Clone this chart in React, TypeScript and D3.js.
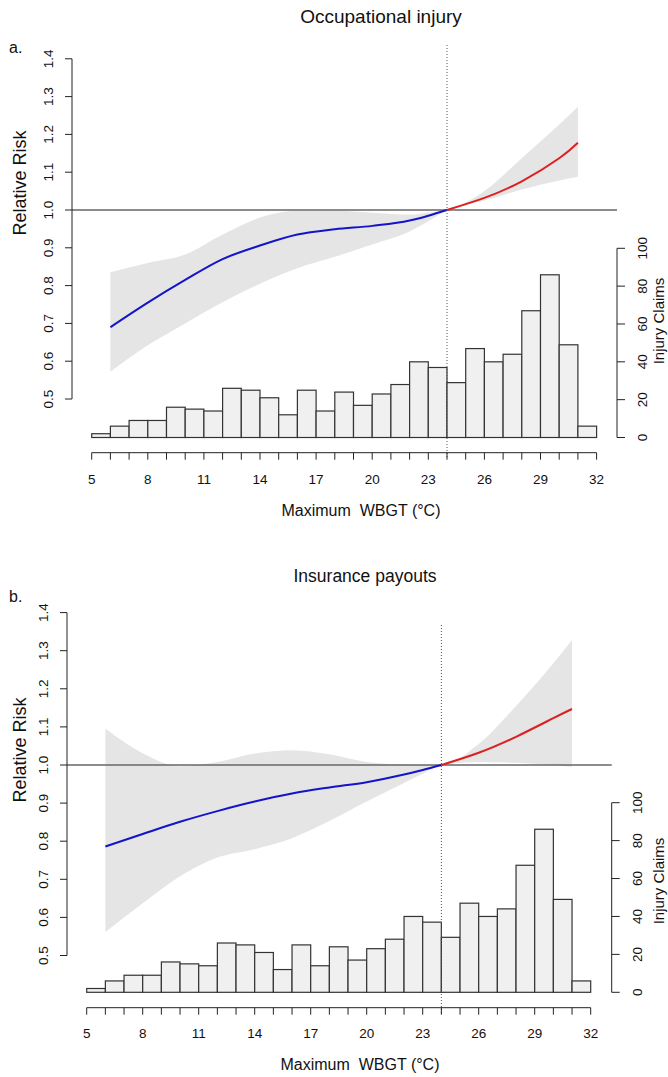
import React from 'react';
import * as d3 from 'd3';

// histogram: one bin per degree from 5 to 32
const binStarts = d3.range(5, 32);
const claimCounts = [2, 6, 9, 9, 16, 15, 14, 26, 25, 21, 12, 25, 14, 24, 17, 23, 28, 40, 37, 29, 47, 40, 44, 67, 86, 49, 6];

const xTicks = d3.range(5, 33);
const xLabels = [5, 8, 11, 14, 17, 20, 23, 26, 29, 32];
const rrTicks = [0.5, 0.6, 0.7, 0.8, 0.9, 1.0, 1.1, 1.2, 1.3, 1.4];
const claimTicks = [0, 20, 40, 60, 80, 100];

const refTemp = 24;
const coldWbgt = [6, 8, 10, 12, 14, 16, 18, 20, 22, 23, 24];
const heatWbgt = [24, 26, 28, 30, 31];

// a. Occupational injury
const injuryCold = [0.69, 0.755, 0.815, 0.87, 0.906, 0.935, 0.949, 0.958, 0.972, 0.985, 1.0];
const injuryColdLo = [0.572, 0.642, 0.7, 0.756, 0.805, 0.846, 0.876, 0.909, 0.943, 0.97, 1.0];
const injuryColdHi = [0.835, 0.86, 0.882, 0.935, 0.98, 0.998, 0.998, 0.993, 0.988, 0.993, 1.0];
const injuryHeat = [1.0, 1.032, 1.076, 1.137, 1.178];
const injuryHeatLo = [1.0, 1.025, 1.054, 1.078, 1.088];
const injuryHeatHi = [1.0, 1.05, 1.137, 1.226, 1.273];

// b. Insurance payouts
const payoutCold = [0.786, 0.819, 0.851, 0.879, 0.904, 0.925, 0.941, 0.955, 0.975, 0.987, 1.0];
const payoutColdLo = [0.562, 0.637, 0.708, 0.757, 0.779, 0.808, 0.853, 0.904, 0.953, 0.977, 1.0];
const payoutColdHi = [1.096, 1.031, 0.997, 1.008, 1.03, 1.039, 1.028, 1.008, 1.001, 1.0, 1.0];
const payoutHeat = [1.0, 1.032, 1.074, 1.123, 1.147];
const payoutHeatLo = [1.0, 1.008, 1.006, 1.0, 0.995];
const payoutHeatHi = [1.0, 1.055, 1.155, 1.267, 1.328];

const font = 'Liberation Sans, Arial, sans-serif';

type PanelProps = {
  letter: string;
  title: string;
  titleX: number;
  titleY: number;
  titleSize: number;
  letterY: number;
  xRange: [number, number];
  rrRange: [number, number];
  claimRange: [number, number];
  leftX: number;
  rightX: number;
  axisY: number;
  dotTop: number;
  labelY: number;
  xTitleX: number;
  xTitleY: number;
  rrTitleY: number;
  claimTitleY: number;
  cold: number[];
  coldLo: number[];
  coldHi: number[];
  heat: number[];
  heatLo: number[];
  heatHi: number[];
};

const Panel = (p: PanelProps) => {
  const x = d3.scaleLinear().domain([5, 32]).range(p.xRange);
  const yr = d3.scaleLinear().domain([0.5, 1.4]).range(p.rrRange);
  const yc = d3.scaleLinear().domain([0, 100]).range(p.claimRange);

  const bandT = coldWbgt.concat(heatWbgt.slice(1));
  const bandLo = p.coldLo.concat(p.heatLo.slice(1));
  const bandHi = p.coldHi.concat(p.heatHi.slice(1));

  const area = d3.area<number>()
    .x(i => x(bandT[i]))
    .y0(i => yr(bandLo[i]))
    .y1(i => yr(bandHi[i]))
    .curve(d3.curveMonotoneX);

  const line = (ts: number[], vs: number[], curve: d3.CurveFactory) => d3.line<number>()
    .x(i => x(ts[i]))
    .y(i => yr(vs[i]))
    .curve(curve)(d3.range(ts.length)) || '';

  return (
    <g fontFamily={font} fill="#111">
      <text x={p.titleX} y={p.titleY} fontSize={p.titleSize} textAnchor="middle">{p.title}</text>
      <text x={9} y={p.letterY} fontSize={16}>{p.letter}</text>

      {/* confidence band */}
      <path d={area(d3.range(bandT.length)) || ''} fill="#e5e5e5" stroke="none" />

      {/* reference line at RR = 1 */}
      <line x1={p.leftX} x2={p.rightX} y1={yr(1)} y2={yr(1)} stroke="#666" strokeWidth={1.6} />

      <path d={line(coldWbgt, p.cold, d3.curveMonotoneX)} fill="none" stroke="#1414c8" strokeWidth={2} />
      <path d={line(heatWbgt, p.heat, d3.curveNatural)} fill="none" stroke="#dc2020" strokeWidth={2} />

      {/* histogram of claims */}
      {binStarts.map((b, i) => (
        <rect key={b} x={x(b)} y={yc(claimCounts[i])} width={x(b + 1) - x(b)}
          height={yc(0) - yc(claimCounts[i])} fill="#f0f0f0" stroke="#333" strokeWidth={1.2} />
      ))}

      <line x1={x(refTemp)} x2={x(refTemp)} y1={p.dotTop} y2={p.axisY + 6}
        stroke="#555" strokeWidth={1} strokeDasharray="1,2" />

      {/* left axis */}
      <line x1={p.leftX} x2={p.leftX} y1={yr(0.5)} y2={yr(1.4)} stroke="#222" />
      {rrTicks.map(t => (
        <g key={t}>
          <line x1={p.leftX - 7} x2={p.leftX} y1={yr(t)} y2={yr(t)} stroke="#222" />
          <text transform={`translate(${p.leftX - 19},${yr(t)}) rotate(-90)`} fontSize={13.5} textAnchor="middle">{t.toFixed(1)}</text>
        </g>
      ))}
      <text transform={`translate(26,${p.rrTitleY}) rotate(-90)`} fontSize={18} textAnchor="middle">Relative Risk</text>

      {/* right axis */}
      <line x1={p.rightX} x2={p.rightX} y1={yc(0)} y2={yc(100)} stroke="#222" />
      {claimTicks.map(t => (
        <g key={t}>
          <line x1={p.rightX} x2={p.rightX + 8} y1={yc(t)} y2={yc(t)} stroke="#222" />
          <text transform={`translate(${p.rightX + 30},${yc(t)}) rotate(-90)`} fontSize={13.5} textAnchor="middle">{t}</text>
        </g>
      ))}
      <text transform={`translate(664,${p.claimTitleY}) rotate(-90)`} fontSize={15} textAnchor="middle">Injury Claims</text>

      {/* bottom axis */}
      <line x1={x(5)} x2={x(32)} y1={p.axisY} y2={p.axisY} stroke="#222" />
      {xTicks.map(t => (
        <line key={t} x1={x(t)} x2={x(t)} y1={p.axisY} y2={p.axisY + 7} stroke="#222" />
      ))}
      {xLabels.map(t => (
        <text key={t} x={x(t)} y={p.labelY} fontSize={13.5} textAnchor="middle">{t}</text>
      ))}
      <text x={p.xTitleX} y={p.xTitleY} fontSize={16} textAnchor="middle" style={{ whiteSpace: 'pre' }}>
        {'Maximum  WBGT (°C)'}
      </text>
    </g>
  );
};

const App = () => (
  <svg width={668} height={1077} style={{ position: 'absolute', left: 0, top: 0, background: '#fff' }}>
    <rect width={668} height={1077} fill="#fff" />
    <Panel letter="a." title="Occupational injury" titleX={381} titleY={23} titleSize={19} letterY={53}
      xRange={[91.7, 596.6]} rrRange={[399, 58.8]} claimRange={[437.5, 248.3]}
      leftX={72} rightX={617} axisY={452.7} dotTop={45} labelY={484}
      xTitleX={361} xTitleY={516} rrTitleY={183} claimTitleY={321}
      cold={injuryCold} coldLo={injuryColdLo} coldHi={injuryColdHi}
      heat={injuryHeat} heatLo={injuryHeatLo} heatHi={injuryHeatHi} />
    <Panel letter="b." title="Insurance payouts" titleX={365} titleY={582} titleSize={17.5} letterY={602}
      xRange={[86.7, 590.7]} rrRange={[955.5, 612.6]} claimRange={[992.3, 802.7]}
      leftX={67} rightX={611.7} axisY={1007.7} dotTop={625} labelY={1038}
      xTitleX={360} xTitleY={1070} rrTitleY={750} claimTitleY={881}
      cold={payoutCold} coldLo={payoutColdLo} coldHi={payoutColdHi}
      heat={payoutHeat} heatLo={payoutHeatLo} heatHi={payoutHeatHi} />
  </svg>
);

export default App;
